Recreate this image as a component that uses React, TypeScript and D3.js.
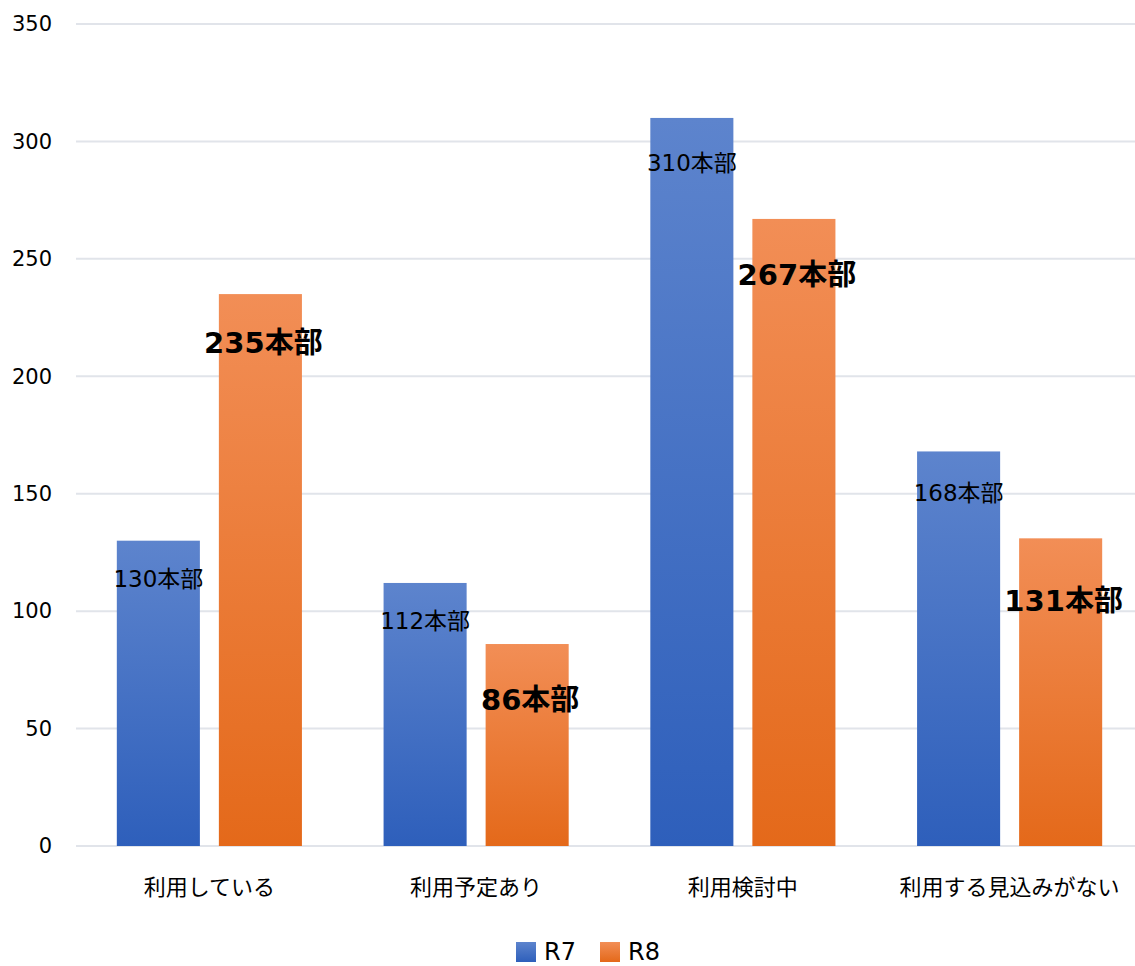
import React from "react";
import { scaleBand, scaleLinear } from "d3";

const categories = ["利用している", "利用予定あり", "利用検討中", "利用する見込みがない"];
const seriesNames = ["R7", "R8"];
const r7Values = [130, 112, 310, 168];
const r8Values = [235, 86, 267, 131];
const yTicks = [0, 50, 100, 150, 200, 250, 300, 350];

// label placement below bar top (px), as hand-placed in the original
const r7LabelDrop = [38, 38, 45, 42];
const r8LabelDrop = [49, 56, 56, 63];

const font = "'DejaVu Sans', 'Noto Sans CJK JP', sans-serif";

export default function App(): JSX.Element {
    const width = 1135;
    const height = 966;

    const x0 = scaleBand().domain(categories).range([76, 1143]).paddingInner(0).paddingOuter(0);
    const x1 = scaleBand().domain(seriesNames).range([0, x0.bandwidth()]).paddingInner(0.186).paddingOuter(0.4);
    const y = scaleLinear().domain([0, 350]).range([846, 24]);

    const data = categories.map((c, i) => ({ cat: c, vals: [r7Values[i], r8Values[i]], drops: [r7LabelDrop[i], r8LabelDrop[i]] }));

    return (
        <svg width={width} height={height} style={{ position: "absolute", left: 0, top: 0, background: "#fff" }}>
            <defs>
                <linearGradient id="gBlue" x1="0" y1="0" x2="0" y2="1">
                    <stop offset="0%" stopColor="#5D84CD" />
                    <stop offset="100%" stopColor="#2E5FBB" />
                </linearGradient>
                <linearGradient id="gOrange" x1="0" y1="0" x2="0" y2="1">
                    <stop offset="0%" stopColor="#F28E56" />
                    <stop offset="100%" stopColor="#E4691A" />
                </linearGradient>
            </defs>
            <rect width={width} height={height} fill="#fff" />
            {yTicks.map((t) => (
                <g key={t}>
                    <line x1={76} x2={1135} y1={y(t)} y2={y(t)} stroke="#E1E4EA" strokeWidth={2} />
                    <text x={52} y={y(t)} dy="0.35em" textAnchor="end" fontFamily={font} fontSize={21} fill="#000">
                        {t}
                    </text>
                </g>
            ))}
            {data.map((d) => (
                <g key={d.cat} transform={`translate(${x0(d.cat)},0)`}>
                    {d.vals.map((v, j) => {
                        const bx = x1(seriesNames[j]) || 0;
                        const bw = x1.bandwidth();
                        return (
                            <rect
                                key={j}
                                x={bx}
                                y={y(v)}
                                width={bw}
                                height={y(0) - y(v)}
                                fill={j === 0 ? "url(#gBlue)" : "url(#gOrange)"}
                            />
                        );
                    })}
                    {d.vals.map((v, j) => {
                        const bx = (x1(seriesNames[j]) || 0) + x1.bandwidth() / 2;
                        return j === 0 ? (
                            <text key={"l" + j} x={bx} y={y(v) + d.drops[j]} dy="0.35em" textAnchor="middle" fontFamily={font} fontSize={23} fill="#000">
                                {v}本部
                            </text>
                        ) : (
                            <text key={"l" + j} x={bx + 3} y={y(v) + d.drops[j]} dy="0.35em" textAnchor="middle" fontFamily={font} fontSize={29} fontWeight="bold" fill="#000">
                                {v}本部
                            </text>
                        );
                    })}
                    <text x={x0.bandwidth() / 2} y={887} dy="0.35em" textAnchor="middle" fontFamily={font} fontSize={22} fill="#000">
                        {d.cat}
                    </text>
                </g>
            ))}
            <g>
                <rect x={516} y={942} width={20} height={20} fill="url(#gBlue)" />
                <text x={544} y={960} fontFamily={font} fontSize={24} fill="#000">R7</text>
                <rect x={600} y={942} width={20} height={20} fill="url(#gOrange)" />
                <text x={628} y={960} fontFamily={font} fontSize={24} fill="#000">R8</text>
            </g>
        </svg>
    );
}
